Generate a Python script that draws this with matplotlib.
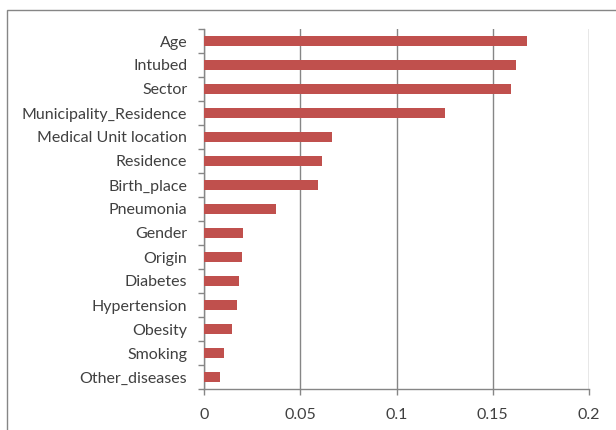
import numpy as np
import matplotlib.pyplot as plt
from matplotlib.patches import Rectangle

plt.rcParams['font.family'] = ['Lato', 'DejaVu Sans']

features = ["Age", "Intubed", "Sector", "Municipality_Residence", "Medical Unit location",
            "Residence", "Birth_place", "Pneumonia", "Gender", "Origin", "Diabetes",
            "Hypertension", "Obesity", "Smoking", "Other_diseases"]
importance = [0.168, 0.1622, 0.1596, 0.1254, 0.0667, 0.0613, 0.0592, 0.0375,
              0.0204, 0.0195, 0.0181, 0.0169, 0.0147, 0.0105, 0.0085]
xticks = [0, 0.05, 0.1, 0.15, 0.2]
xticklabels = ["0", "0.05", "0.1", "0.15", "0.2"]

grey = "#868686"
fig = plt.figure(figsize=(6.16, 4.30), dpi=100)
ax = fig.add_axes([204 / 616, 1 - 389 / 430, 385 / 616, 360 / 430])

y = np.arange(len(features))
ax.barh(y, importance, height=0.38, color="#C0504D", zorder=3)
ax.set_ylim(len(features) - 0.5, -0.5)
ax.set_xlim(0, 0.2)

ax.set_yticks(y)
ax.set_yticklabels(features, fontsize=11.5, color="#404040")
ax.set_yticks(np.arange(len(features) + 1) - 0.5, minor=True)
ax.tick_params(axis="y", which="major", length=0, pad=12)
ax.tick_params(axis="y", which="minor", length=4, color=grey, width=1)

ax.set_xticks(xticks)
ax.set_xticklabels(xticklabels, fontsize=11.5, color="#404040")
ax.tick_params(axis="x", length=4, color=grey, width=1, pad=10)

ax.grid(axis="x", color=grey, linewidth=1, zorder=0)
for s in ["top", "right"]:
    ax.spines[s].set_visible(False)
for s in ["left", "bottom"]:
    ax.spines[s].set_color(grey)
    ax.spines[s].set_linewidth(1)

# chart border
fig.patches.append(Rectangle((7 / 616, -0.05), 1.1, 1 - 10 / 430 + 0.05,
                             transform=fig.transFigure, fill=False,
                             edgecolor=grey, linewidth=1, clip_on=False))

fig.savefig("out.png", dpi=100)
